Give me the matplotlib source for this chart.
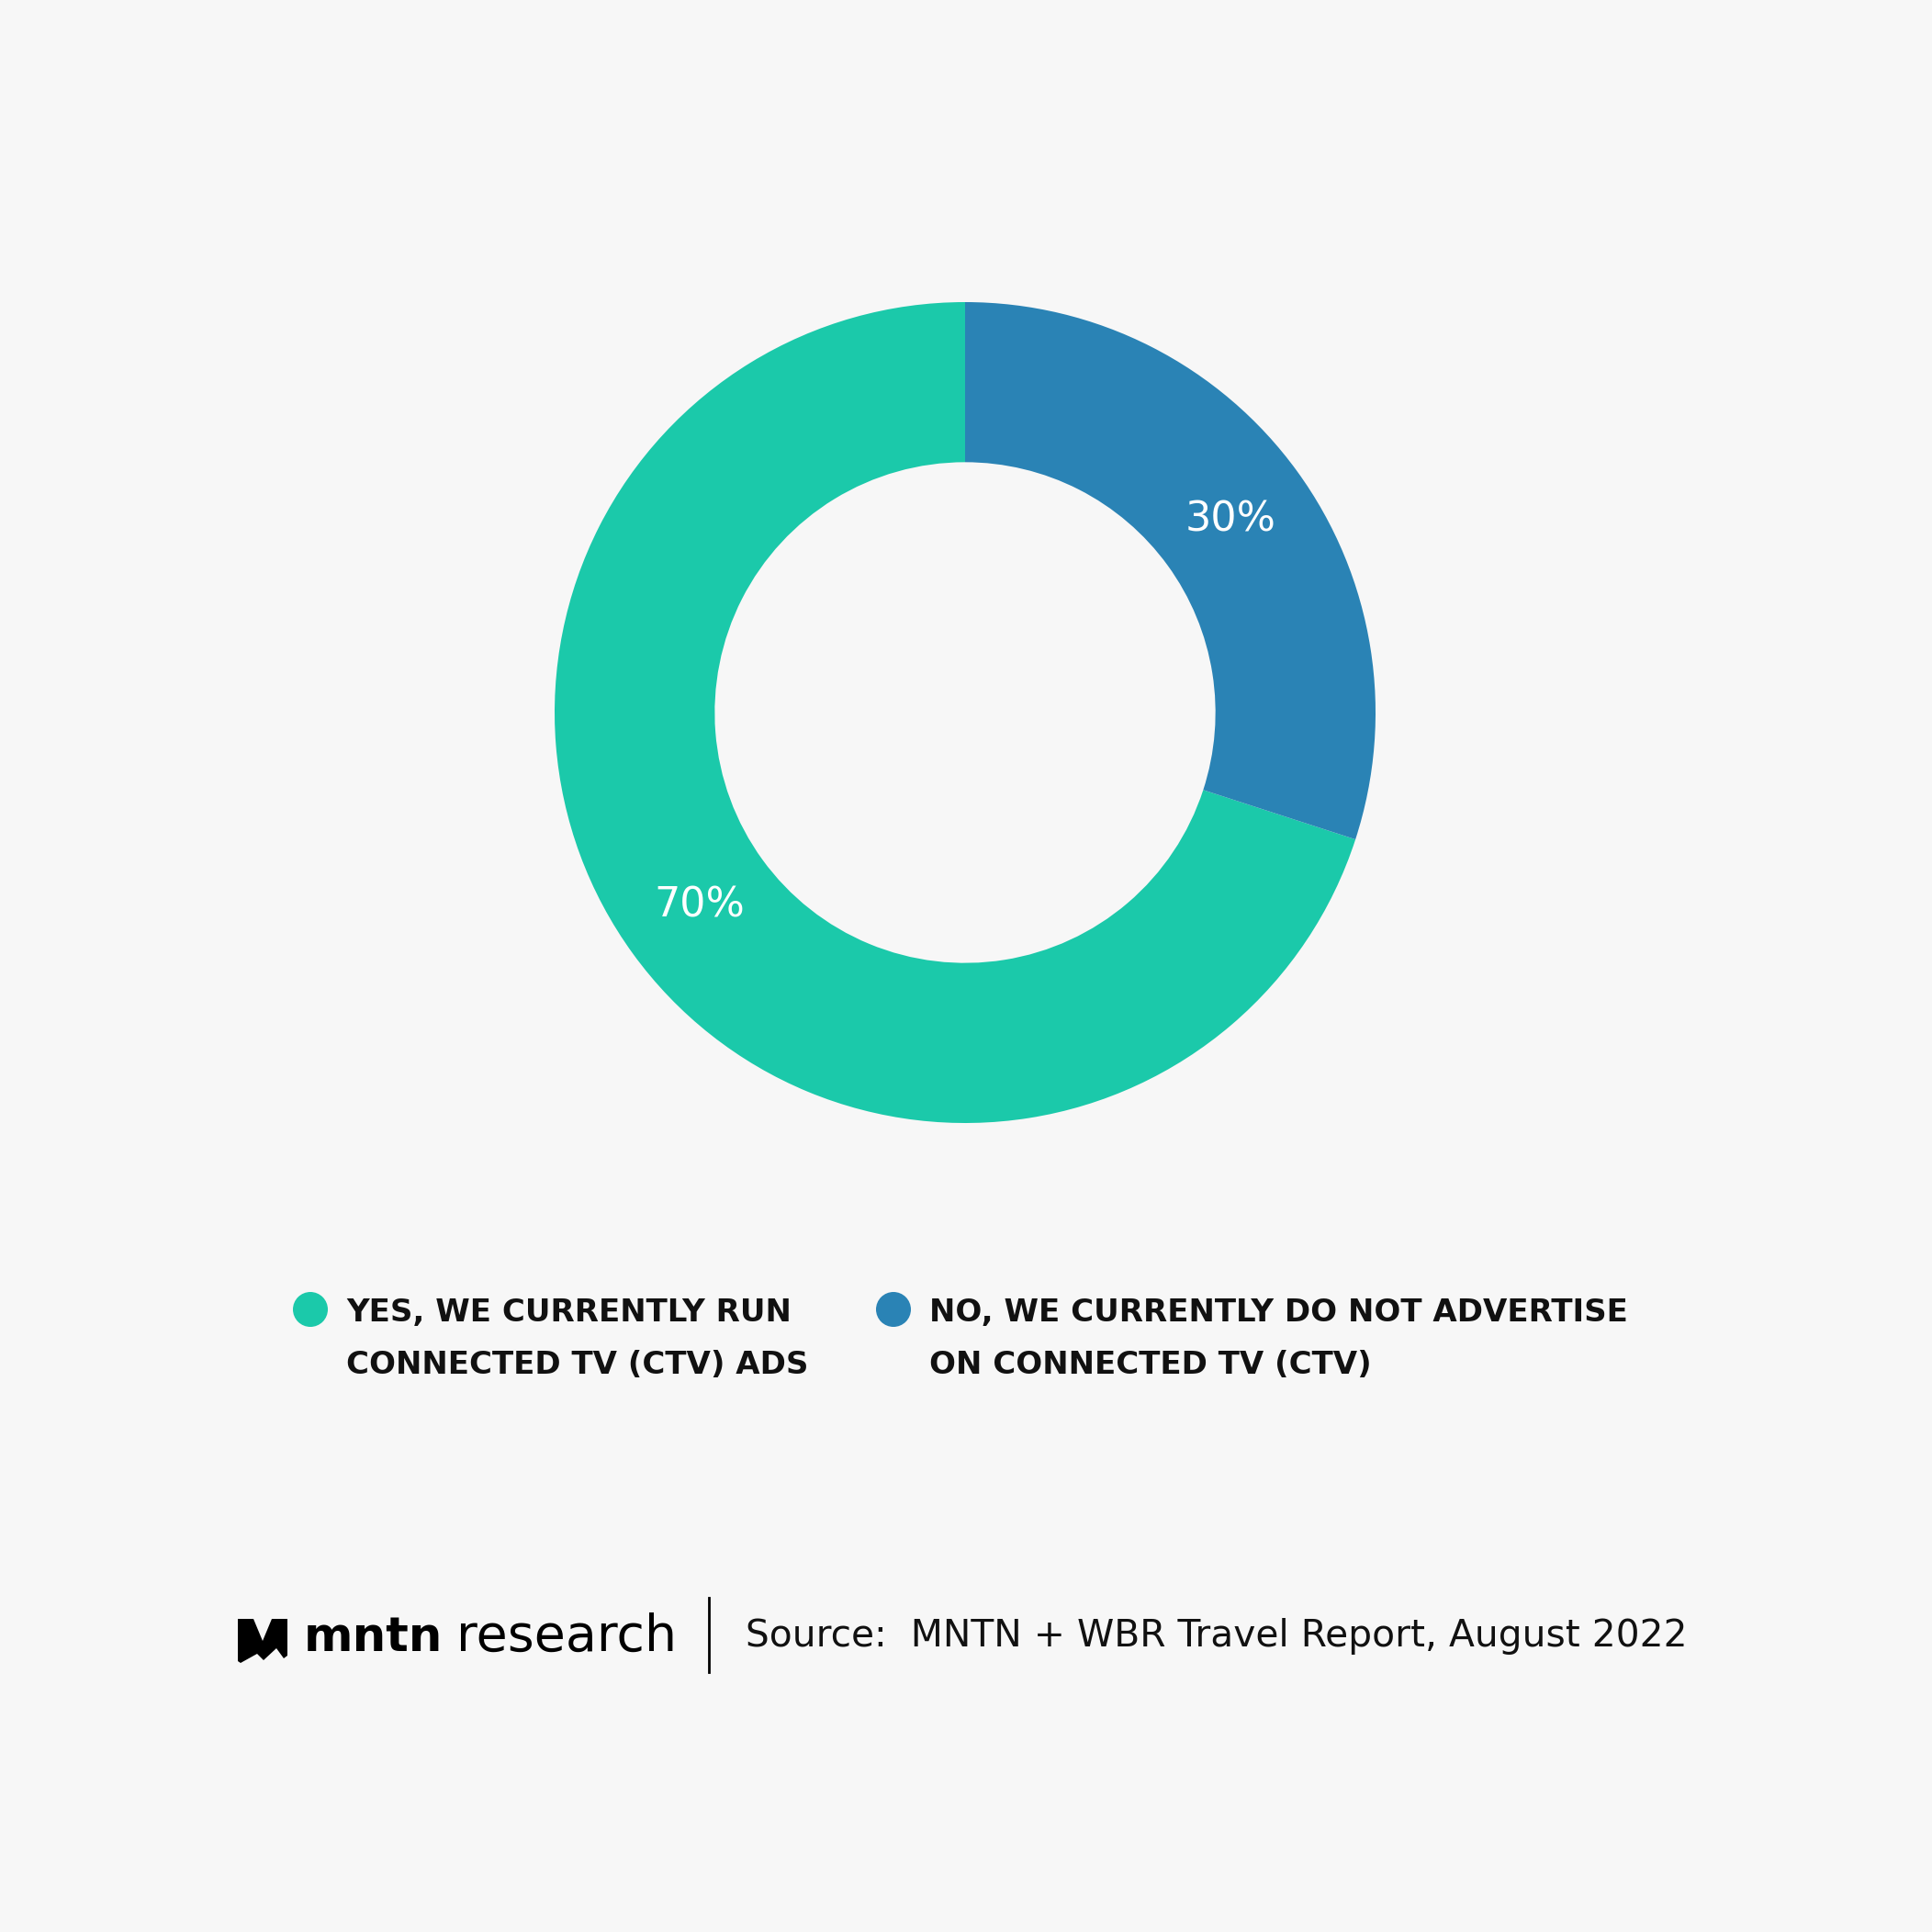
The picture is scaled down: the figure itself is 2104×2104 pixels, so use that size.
import matplotlib
matplotlib.use("Agg")
import matplotlib.pyplot as plt
from matplotlib.patches import Circle, Polygon

categories = ["YES, WE CURRENTLY RUN\nCONNECTED TV (CTV) ADS",
              "NO, WE CURRENTLY DO NOT ADVERTISE\nON CONNECTED TV (CTV)"]
values = [70, 30]
colors = ["#1BC9AA", "#2A83B5"]
source = "Source:  MNTN + WBR Travel Report, August 2022"

W = 2104
BG = "#F7F7F7"
fig = plt.figure(figsize=(W / 100, W / 100), dpi=100, facecolor=BG)

# donut
cx, cy, R = 1051, 776, 447
axp = fig.add_axes([(cx - R) / W, 1 - (cy + R) / W, 2 * R / W, 2 * R / W])
axp.set_facecolor(BG)
wedges, texts, autotexts = axp.pie(
    values, colors=colors, startangle=90, counterclock=True, radius=1,
    wedgeprops=dict(width=0.39, linewidth=0),
    autopct=lambda p: f"{p:.0f}%", pctdistance=0.8,
    textprops=dict(color="white", fontsize=32, family="DejaVu Sans"))
axp.set_xlim(-1, 1)
axp.set_ylim(-1, 1)
axp.set_aspect("equal")
axp.axis("off")

# overlay in pixel coordinates
ax = fig.add_axes([0, 0, 1, 1])
ax.set_xlim(0, W)
ax.set_ylim(W, 0)
ax.axis("off")
ax.patch.set_alpha(0)

leg_x = [338, 973]
for x0, lab, col in zip(leg_x, categories, colors):
    ax.add_patch(Circle((x0, 1426), 19, color=col, lw=0))
    l1, l2 = lab.split("\n")
    ax.text(x0 + 39, 1430, l1, fontsize=24.5, fontweight="bold", family="DejaVu Sans",
            va="center", ha="left", color="#111111")
    ax.text(x0 + 39, 1487, l2, fontsize=24.5, fontweight="bold", family="DejaVu Sans",
            va="center", ha="left", color="#111111")

# logo
logo = [(259, 1763), (276, 1763), (286, 1787), (296, 1763), (313, 1763),
        (313, 1803), (309, 1806), (301, 1795), (287, 1808), (280, 1801),
        (262, 1811), (259, 1809)]
ax.add_patch(Polygon(logo, closed=True, color="black", lw=0))
ax.text(331, 1798, "mntn", fontsize=37, fontweight="bold", family="DejaVu Sans",
        va="baseline", ha="left", color="black")
ax.text(497, 1798, "research", fontsize=40, family="DejaVu Sans",
        va="baseline", ha="left", color="black")
ax.plot([772, 772], [1740, 1821], color="black", lw=2)
ax.text(812, 1793, source, fontsize=29.3, family="DejaVu Sans",
        va="baseline", ha="left", color="#111111")

fig.savefig("out.png", dpi=100, facecolor=BG)
